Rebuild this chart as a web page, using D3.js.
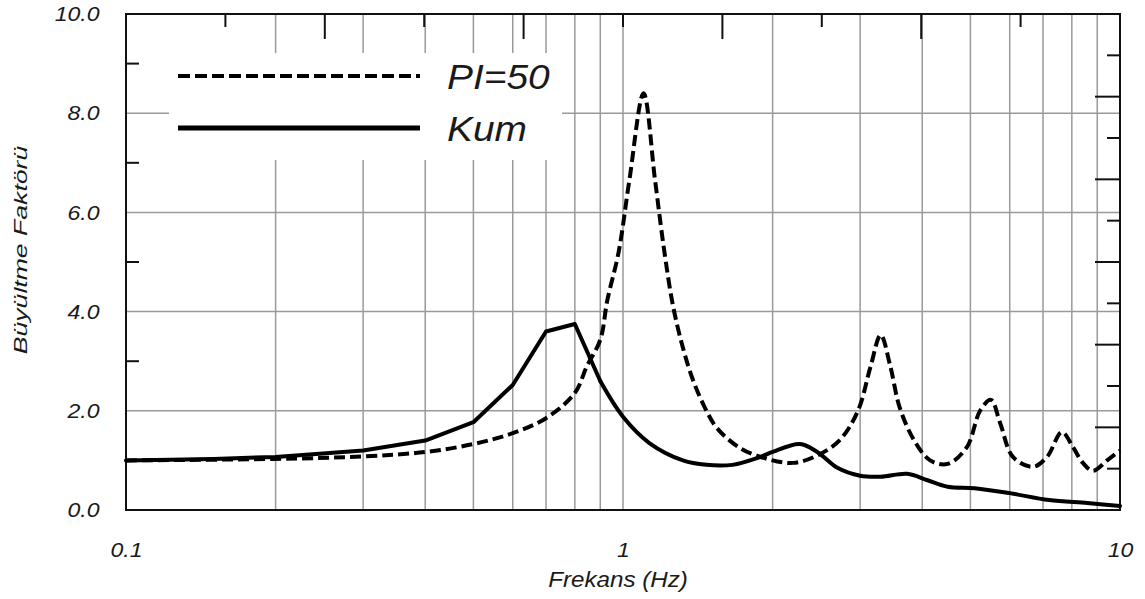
<!DOCTYPE html>
<html>
<head>
<meta charset="utf-8">
<script src="https://cdn.jsdelivr.net/npm/d3@7"></script>
<style>
  html, body { margin: 0; padding: 0; background: #fff; }
  svg { display: block; }
  text { font-family: "Liberation Sans", Arial, sans-serif; font-style: italic; fill: #1a1a1a; }
</style>
</head>
<body>
<svg id="chart" width="1145" height="599"></svg>
<script>
// ---- data ----
const kumFreq = [0.1, 0.15, 0.2, 0.3, 0.4, 0.5, 0.6, 0.7, 0.8, 0.9, 1.0, 1.13, 1.32, 1.47, 1.66, 1.89, 2.0, 2.27, 2.46, 2.7, 3.0, 3.3, 3.73, 4.1, 4.5, 5.1, 6.0, 7.2, 8.6, 10];
const kumVals = [1.0, 1.03, 1.07, 1.2, 1.4, 1.77, 2.52, 3.6, 3.75, 2.6, 1.88, 1.35, 1.0, 0.91, 0.91, 1.07, 1.17, 1.33, 1.17, 0.85, 0.69, 0.67, 0.73, 0.6, 0.47, 0.44, 0.34, 0.2, 0.14, 0.08];

const piFreq = [0.1, 0.2, 0.3, 0.4, 0.5, 0.6, 0.7, 0.8, 0.846, 0.9, 0.93, 0.98, 1.03, 1.1, 1.16, 1.21, 1.26, 1.32, 1.383, 1.462, 1.546, 1.72, 1.95, 2.2, 2.46, 2.73, 2.97, 3.15, 3.3, 3.45, 3.6, 3.85, 4.15, 4.5, 4.92, 5.23, 5.5, 5.74, 6.09, 6.68, 7.13, 7.64, 8.04, 8.42, 8.82, 9.42, 10];
const piVals = [1.0, 1.03, 1.08, 1.17, 1.33, 1.55, 1.85, 2.36, 2.9, 3.43, 4.23, 5.2, 6.65, 8.4, 6.65, 5.24, 4.13, 3.27, 2.62, 2.06, 1.65, 1.25, 1.03, 0.95, 1.1, 1.41, 2.0, 2.9, 3.53, 2.9, 2.08, 1.41, 1.0, 0.93, 1.27, 2.0, 2.22, 1.75, 1.07, 0.87, 1.07, 1.57, 1.27, 0.95, 0.79, 1.0, 1.2];

const seriesNames = ["PI=50", "Kum"];
const xTickValues = [0.1, 1, 10];
const xTickLabels = ["0.1", "1", "10"];
const yTickValues = [0, 2, 4, 6, 8, 10];
const xTitle = "Frekans (Hz)";
const yTitle = "Büyültme Faktörü";

// ---- layout ----
const L = 126, R = 1120, T = 14, B = 510;
const SX = 1.1; // horizontal text stretch seen in the reference
const svg = d3.select("#chart");

const x = d3.scaleLog().domain([0.1, 10]).range([L, R]);
const y = d3.scaleLinear().domain([0, 10]).range([B, T]);
const xTop = d3.scaleLinear().domain([0, 10]).range([L, R]);
const yRight = d3.scaleLinear().domain([0, 12]).range([B, T]);

// gridlines
const gridX = [];
[0.1, 1].forEach(d => { for (let k = 2; k <= 9; k++) gridX.push(d * k); });
gridX.push(1);
const gridY = [2, 4, 6, 8];
const grid = svg.append("g").attr("stroke", "#9a9a9a").attr("stroke-width", 1.5);
grid.selectAll("line.gx").data(gridX).join("line")
  .attr("x1", d => x(d)).attr("x2", d => x(d)).attr("y1", T).attr("y2", B);
grid.selectAll("line.gy").data(gridY).join("line")
  .attr("x1", L).attr("x2", R).attr("y1", d => y(d)).attr("y2", d => y(d));

// minor ticks
const tk = svg.append("g").attr("stroke", "#111").attr("stroke-width", 2);
tk.selectAll("line.l").data([1, 3, 5, 7, 9]).join("line")
  .attr("x1", L).attr("x2", L + 13).attr("y1", d => y(d)).attr("y2", d => y(d));
tk.selectAll("line.t").data(d3.range(1, 10)).join("line")
  .attr("x1", d => xTop(d)).attr("x2", d => xTop(d)).attr("y1", T)
  .attr("y2", d => T + (d % 2 ? 13 : 25));
tk.selectAll("line.r").data(d3.range(1, 12)).join("line")
  .attr("y1", d => yRight(d)).attr("y2", d => yRight(d)).attr("x1", R)
  .attr("x2", d => R - (d % 2 ? 13 : 25));

// legend background box (covers grid)
svg.append("rect").attr("x", 169).attr("y", 53).attr("width", 393).attr("height", 107).attr("fill", "#fff");

// frame
svg.append("rect").attr("x", L).attr("y", T).attr("width", R - L).attr("height", B - T)
  .attr("fill", "none").attr("stroke", "#111").attr("stroke-width", 2);

// axes labels via d3 axes
const ax = svg.append("g").attr("transform", `translate(0,${B})`)
  .call(d3.axisBottom(x).tickValues(xTickValues).tickFormat((d, i) => xTickLabels[i]).tickSize(0).tickPadding(32));
ax.select(".domain").remove();
ax.selectAll("text").attr("font-size", 21).attr("font-family", null).attr("fill", "#1a1a1a")
  .attr("transform", `scale(${SX},1)`);

const ay = svg.append("g").attr("transform", `translate(${L},0)`)
  .call(d3.axisLeft(y).tickValues(yTickValues).tickFormat(d3.format(".1f")).tickSize(0).tickPadding(24));
ay.select(".domain").remove();
ay.selectAll("text").attr("font-size", 21).attr("font-family", null).attr("fill", "#1a1a1a")
  .attr("transform", `scale(${SX},1)`);

// titles
svg.append("text").attr("transform", `translate(618,587) scale(${SX},1)`).attr("text-anchor", "middle")
  .attr("font-size", 22).text(xTitle);
svg.append("text").attr("transform", "translate(27,250) rotate(-90) scale(1.4,1)").attr("text-anchor", "middle")
  .attr("font-size", 19).text(yTitle);

// series
const kumData = kumFreq.map((f, i) => [f, kumVals[i]]);
const piData = piFreq.map((f, i) => [f, piVals[i]]);
const lineLin = d3.line().x(d => x(d[0])).y(d => y(d[1]));
const lineSmooth = d3.line().x(d => x(d[0])).y(d => y(d[1])).curve(d3.curveCatmullRom.alpha(0.5));

// Kum: straight segments at low frequency (visible corners), smooth beyond 0.9 Hz
const kumSplit = kumFreq.indexOf(0.9);
const kumG = svg.append("g").attr("fill", "none").attr("stroke", "#000").attr("stroke-width", 4)
  .attr("stroke-linejoin", "round").attr("stroke-linecap", "round");
kumG.append("path").datum(kumData.slice(0, kumSplit + 1)).attr("d", lineLin);
kumG.append("path").datum(kumData.slice(kumSplit)).attr("d", lineSmooth);

svg.append("path").datum(piData).attr("d", lineSmooth)
  .attr("fill", "none").attr("stroke", "#000").attr("stroke-width", 4).attr("stroke-dasharray", "11,5");

// legend
const leg = svg.append("g");
leg.append("line").attr("x1", 178).attr("x2", 420).attr("y1", 76).attr("y2", 76)
  .attr("stroke", "#000").attr("stroke-width", 4).attr("stroke-dasharray", "12,5");
leg.append("line").attr("x1", 178).attr("x2", 420).attr("y1", 128).attr("y2", 128)
  .attr("stroke", "#000").attr("stroke-width", 5);
leg.append("text").attr("transform", "translate(447,89) scale(1.08,1)").attr("font-size", 36).text(seriesNames[0]);
leg.append("text").attr("transform", "translate(447,141) scale(1.08,1)").attr("font-size", 36).text(seriesNames[1]);
</script>
</body>
</html>
